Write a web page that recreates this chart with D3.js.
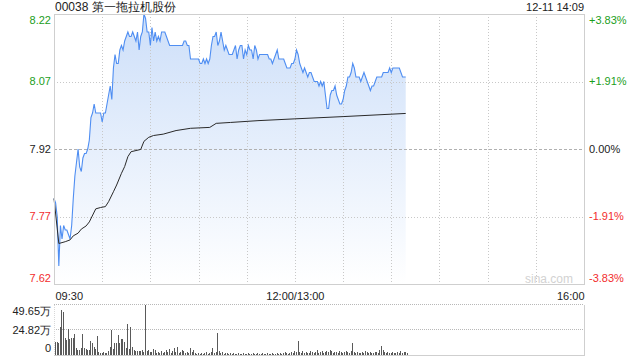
<!DOCTYPE html>
<html>
<head>
<meta charset="utf-8">
<title>00038 分时</title>
<style>
  body{margin:0;background:#fff;}
  svg{display:block;font-family:"Liberation Sans",Arial,sans-serif;}
</style>
<script src="https://cdn.jsdelivr.net/npm/d3@7"></script>
</head>
<body>
<script>
var title = "00038 第一拖拉机股份",
    stamp = "12-11 14:09";

var prevClose = 7.92;
var priceTicks = [8.22, 8.07, 7.92, 7.77, 7.62];
var pctLabels = ["+3.83%", "+1.91%", "0.00%", "-1.91%", "-3.83%"];
var timeTicks = [0, 150, 330];
var timeLabels = ["09:30", "12:00/13:00", "16:00"];
var volTicks = [49.65, 24.82, 0];
var volLabels = ["49.65万", "24.82万", "0"];

// one price per minute, 09:30 .. 14:09 (lunch break removed)
var prices = [
  7.81,7.80,7.77,7.66,7.75,7.72,7.75,7.74,7.74,7.73,
  7.72,7.75,7.81,7.86,7.89,7.92,7.88,7.87,7.90,7.91,
  7.91,7.92,7.94,7.99,8.00,8.02,8.00,8.00,8.00,8.00,
  7.98,8.00,8.00,8.02,8.04,8.06,8.03,8.10,8.13,8.11,
  8.11,8.14,8.15,8.14,8.16,8.17,8.18,8.17,8.17,8.18,
  8.17,8.16,8.18,8.14,8.17,8.18,8.22,8.21,8.18,8.18,
  8.15,8.19,8.16,8.18,8.16,8.17,8.16,8.18,8.18,8.18,
  8.17,8.16,8.15,8.15,8.15,8.15,8.15,8.15,8.15,8.15,
  8.15,8.16,8.16,8.15,8.15,8.12,8.12,8.12,8.12,8.12,
  8.12,8.11,8.11,8.12,8.11,8.12,8.11,8.12,8.15,8.17,
  8.17,8.18,8.15,8.16,8.18,8.16,8.14,8.15,8.14,8.13,
  8.13,8.13,8.14,8.15,8.12,8.14,8.15,8.15,8.12,8.14,
  8.13,8.15,8.14,8.14,8.12,8.15,8.14,8.12,8.13,8.13,
  8.13,8.13,8.13,8.13,8.12,8.12,8.11,8.12,8.13,8.14,
  8.12,8.12,8.12,8.12,8.11,8.10,8.10,8.10,8.11,8.11,
  8.12,8.14,8.13,8.11,8.10,8.09,8.10,8.09,8.08,8.09,
  8.09,8.08,8.07,8.07,8.07,8.06,8.07,8.06,8.07,8.04,
  8.01,8.01,8.04,8.05,8.05,8.06,8.04,8.03,8.02,8.02,
  8.03,8.05,8.06,8.08,8.08,8.09,8.11,8.10,8.08,8.08,
  8.08,8.07,8.08,8.09,8.08,8.07,8.06,8.05,8.06,8.06,
  8.07,8.08,8.08,8.08,8.08,8.09,8.09,8.09,8.09,8.10,
  8.09,8.10,8.10,8.10,8.10,8.10,8.09,8.08,8.08,8.08
];

// volume per minute, in 万 shares
var volumes = [
  13,13,12,28,45,43,17,15,26,16,
  17,17,21,7,5,5,7,21,7,6,
  5,5,14,12,8,6,19,3,2,2,
  3,2,2,4,8,25,6,12,12,20,
  12,16,16,13,7,31,6,28,8,5,
  4,4,4,4,5,3,49.65,4,5,3,
  3,6,5,2,3,2,4,2,3,5,
  3,6,2,4,7,3,8,2,3,5,
  4,2,3,2,7,3,5,2,1,2,
  1,2,1,2,3,1,2,3,7,2,
  3,22,4,2,3,1,2,2,1,2,
  1,2,1,1,2,1,1,2,1,1,
  2,1,1,2,1,1,2,1,1,2,
  1,1,2,1,1,2,1,1,2,1,
  2,1,2,3,2,1,2,3,2,4,
  3,14,3,2,4,2,3,2,2,4,
  3,2,3,5,2,3,4,2,3,4,
  3,5,4,2,3,3,2,4,3,2,
  3,4,3,2,4,12,3,2,3,2,
  2,3,2,4,3,2,3,2,2,3,
  3,2,5,9,5,3,2,3,2,2,
  3,2,2,3,2,4,2,3,3,2
];

// average price line, read at these minutes
var avgMinutes = [0,3,7,10,12,15,17,20,22,26,29,32,34,37,39,42,44,46,48,54,56,59,62,68,76,85,97,101,110,127,150,180,219];
var avgPrices = [7.81,7.71,7.714,7.718,7.727,7.733,7.742,7.749,7.758,7.787,7.79,7.792,7.803,7.825,7.84,7.866,7.881,7.903,7.914,7.919,7.937,7.946,7.95,7.953,7.961,7.966,7.968,7.977,7.979,7.983,7.987,7.992,7.999];

var W = 640, H = 360;
var pLeft = 54, pRight = 584, pTop = 14, pBottom = 284;
var vTop = 305, vBottom = 355;
var upColor = "#1b9e1b", downColor = "#f22d2d", flatColor = "#222";

var svg = d3.select("body").append("svg")
    .attr("width", W)
    .attr("height", H);

var x = d3.scaleLinear().domain([0, 330]).range([pLeft, pRight]);
var y = d3.scaleLinear().domain([7.62, 8.22]).range([pBottom, pTop]);
var yv = d3.scaleLinear().domain([0, 49.65]).range([vBottom, vTop]);

function crisp(v){ return Math.round(v) + 0.5; }
function tickColor(v){
  if (Math.abs(v - prevClose) < 1e-6) return flatColor;
  return v > prevClose ? upColor : downColor;
}

var defs = svg.append("defs");
var grad = defs.append("linearGradient")
    .attr("id", "fillGrad")
    .attr("gradientUnits", "userSpaceOnUse")
    .attr("x1", 0).attr("x2", 0)
    .attr("y1", pTop).attr("y2", pBottom);
grad.append("stop").attr("offset", "0%").attr("stop-color", "#cddff9");
grad.append("stop").attr("offset", "100%").attr("stop-color", "#ffffff");

// header
svg.append("text")
    .attr("x", pLeft + 1).attr("y", 11)
    .style("font-size", "12px").attr("fill", "#222")
    .text(title);
svg.append("text")
    .attr("x", pRight).attr("y", 11)
    .attr("text-anchor", "end")
    .style("font-size", "11px").attr("fill", "#222")
    .text(stamp);

// price area + lines
var area = d3.area()
    .x(function(d, i){ return x(i); })
    .y0(pBottom)
    .y1(function(d){ return y(d); });
svg.append("path")
    .datum(prices)
    .attr("d", area)
    .attr("fill", "url(#fillGrad)");

// grid
var grid = svg.append("g");
grid.selectAll("line.v")
    .data(d3.range(30, 330, 30))
    .enter().append("line")
    .attr("x1", function(d){ return crisp(x(d)); })
    .attr("x2", function(d){ return crisp(x(d)); })
    .attr("y1", pTop).attr("y2", pBottom)
    .attr("stroke", "#c8c8c8")
    .attr("stroke-dasharray", "1,2");
grid.selectAll("line.h")
    .data(priceTicks.slice(1, 4))
    .enter().append("line")
    .attr("x1", pLeft).attr("x2", pRight)
    .attr("y1", function(d){ return crisp(y(d)); })
    .attr("y2", function(d){ return crisp(y(d)); })
    .attr("stroke", function(d){ return d === prevClose ? "#b0b0b0" : "#c8c8c8"; })
    .attr("stroke-dasharray", function(d){ return d === prevClose ? "3,2" : "1,2"; });

svg.append("path")
    .datum(prices)
    .attr("d", d3.line().x(function(d, i){ return x(i); }).y(function(d){ return y(d); }))
    .attr("fill", "none")
    .attr("stroke", "#4f8ef2")
    .attr("stroke-width", 1.1);

svg.append("path")
    .datum(avgMinutes)
    .attr("d", d3.line()
      .x(function(d){ return x(d); })
      .y(function(d, i){ return y(avgPrices[i]); }))
    .attr("fill", "none")
    .attr("stroke", "#2a2a2a")
    .attr("stroke-width", 1);

// frame
svg.append("rect")
    .attr("x", pLeft + 0.5).attr("y", pTop + 0.5)
    .attr("width", pRight - pLeft).attr("height", pBottom - pTop)
    .attr("fill", "none").attr("stroke", "#cfcfcf");

svg.append("text")
    .attr("x", 573).attr("y", 279).attr("dy", "0.35em")
    .attr("text-anchor", "end")
    .style("font-size", "12px").attr("fill", "#d2d2d2")
    .text("sina.com");

// price labels left, percent labels right
function labelY(v){ return Math.min(Math.max(y(v), pTop + 6), pBottom - 6); }
svg.selectAll("text.price")
    .data(priceTicks)
    .enter().append("text")
    .attr("x", pLeft - 3)
    .attr("y", labelY).attr("dy", "0.35em")
    .attr("text-anchor", "end")
    .style("font-size", "11px")
    .attr("fill", tickColor)
    .text(function(d){ return d.toFixed(2); });
svg.selectAll("text.pct")
    .data(priceTicks)
    .enter().append("text")
    .attr("x", pRight + 5)
    .attr("y", labelY).attr("dy", "0.35em")
    .attr("text-anchor", "start")
    .style("font-size", "11px")
    .attr("fill", tickColor)
    .text(function(d, i){ return pctLabels[i]; });

// time axis
var xAxis = d3.axisBottom(x)
    .tickValues(timeTicks)
    .tickSize(0)
    .tickFormat(function(d, i){ return timeLabels[i]; });
var gx = svg.append("g")
    .attr("transform", "translate(0," + (pBottom + 5) + ")")
    .call(xAxis);
gx.select(".domain").remove();
gx.selectAll("text")
    .style("font-size", "11px")
    .style("font-family", "\"Liberation Sans\",Arial,sans-serif")
    .attr("fill", "#222")
    .attr("text-anchor", function(d, i){ return i === 0 ? "start" : (i === timeTicks.length - 1 ? "end" : "middle"); })
    .attr("dx", function(d, i){ return i === 0 ? 1 : 0; });

// volume panel
svg.selectAll("line.vg")
    .data(volTicks.slice(0, 2))
    .enter().append("line")
    .attr("x1", pLeft).attr("x2", pRight)
    .attr("y1", function(d){ return crisp(yv(d)) - 1; })
    .attr("y2", function(d){ return crisp(yv(d)) - 1; })
    .attr("stroke", "#b8b8b8")
    .attr("stroke-dasharray", "1,1");
svg.append("line")
    .attr("x1", pLeft).attr("x2", pRight + 1)
    .attr("y1", vBottom + 0.5).attr("y2", vBottom + 0.5)
    .attr("stroke", "#cfcfcf");
svg.append("line")
    .attr("x1", pRight + 0.5).attr("x2", pRight + 0.5)
    .attr("y1", vTop).attr("y2", vBottom)
    .attr("stroke", "#cfcfcf");
svg.append("line")
    .attr("x1", pLeft + 0.5).attr("x2", pLeft + 0.5)
    .attr("y1", vTop).attr("y2", vBottom)
    .attr("stroke", "#d8d8d8")
    .attr("stroke-dasharray", "1,1");

svg.selectAll("rect.vol")
    .data(volumes)
    .enter().append("rect")
    .attr("x", function(d, i){ return Math.round(x(i)) + 1; })
    .attr("width", 1)
    .attr("y", function(d){ return Math.round(yv(d)); })
    .attr("height", function(d){ return vBottom - Math.round(yv(d)); })
    .attr("fill", "#5a5a5a");

svg.selectAll("text.vol")
    .data(volTicks)
    .enter().append("text")
    .attr("x", pLeft - 3)
    .attr("y", function(d){ return Math.min(Math.max(yv(d), vTop + 6), vBottom - 7); })
    .attr("dy", "0.35em")
    .attr("text-anchor", "end")
    .style("font-size", "11px")
    .attr("fill", "#222")
    .text(function(d, i){ return volLabels[i]; });
</script>
</body>
</html>
